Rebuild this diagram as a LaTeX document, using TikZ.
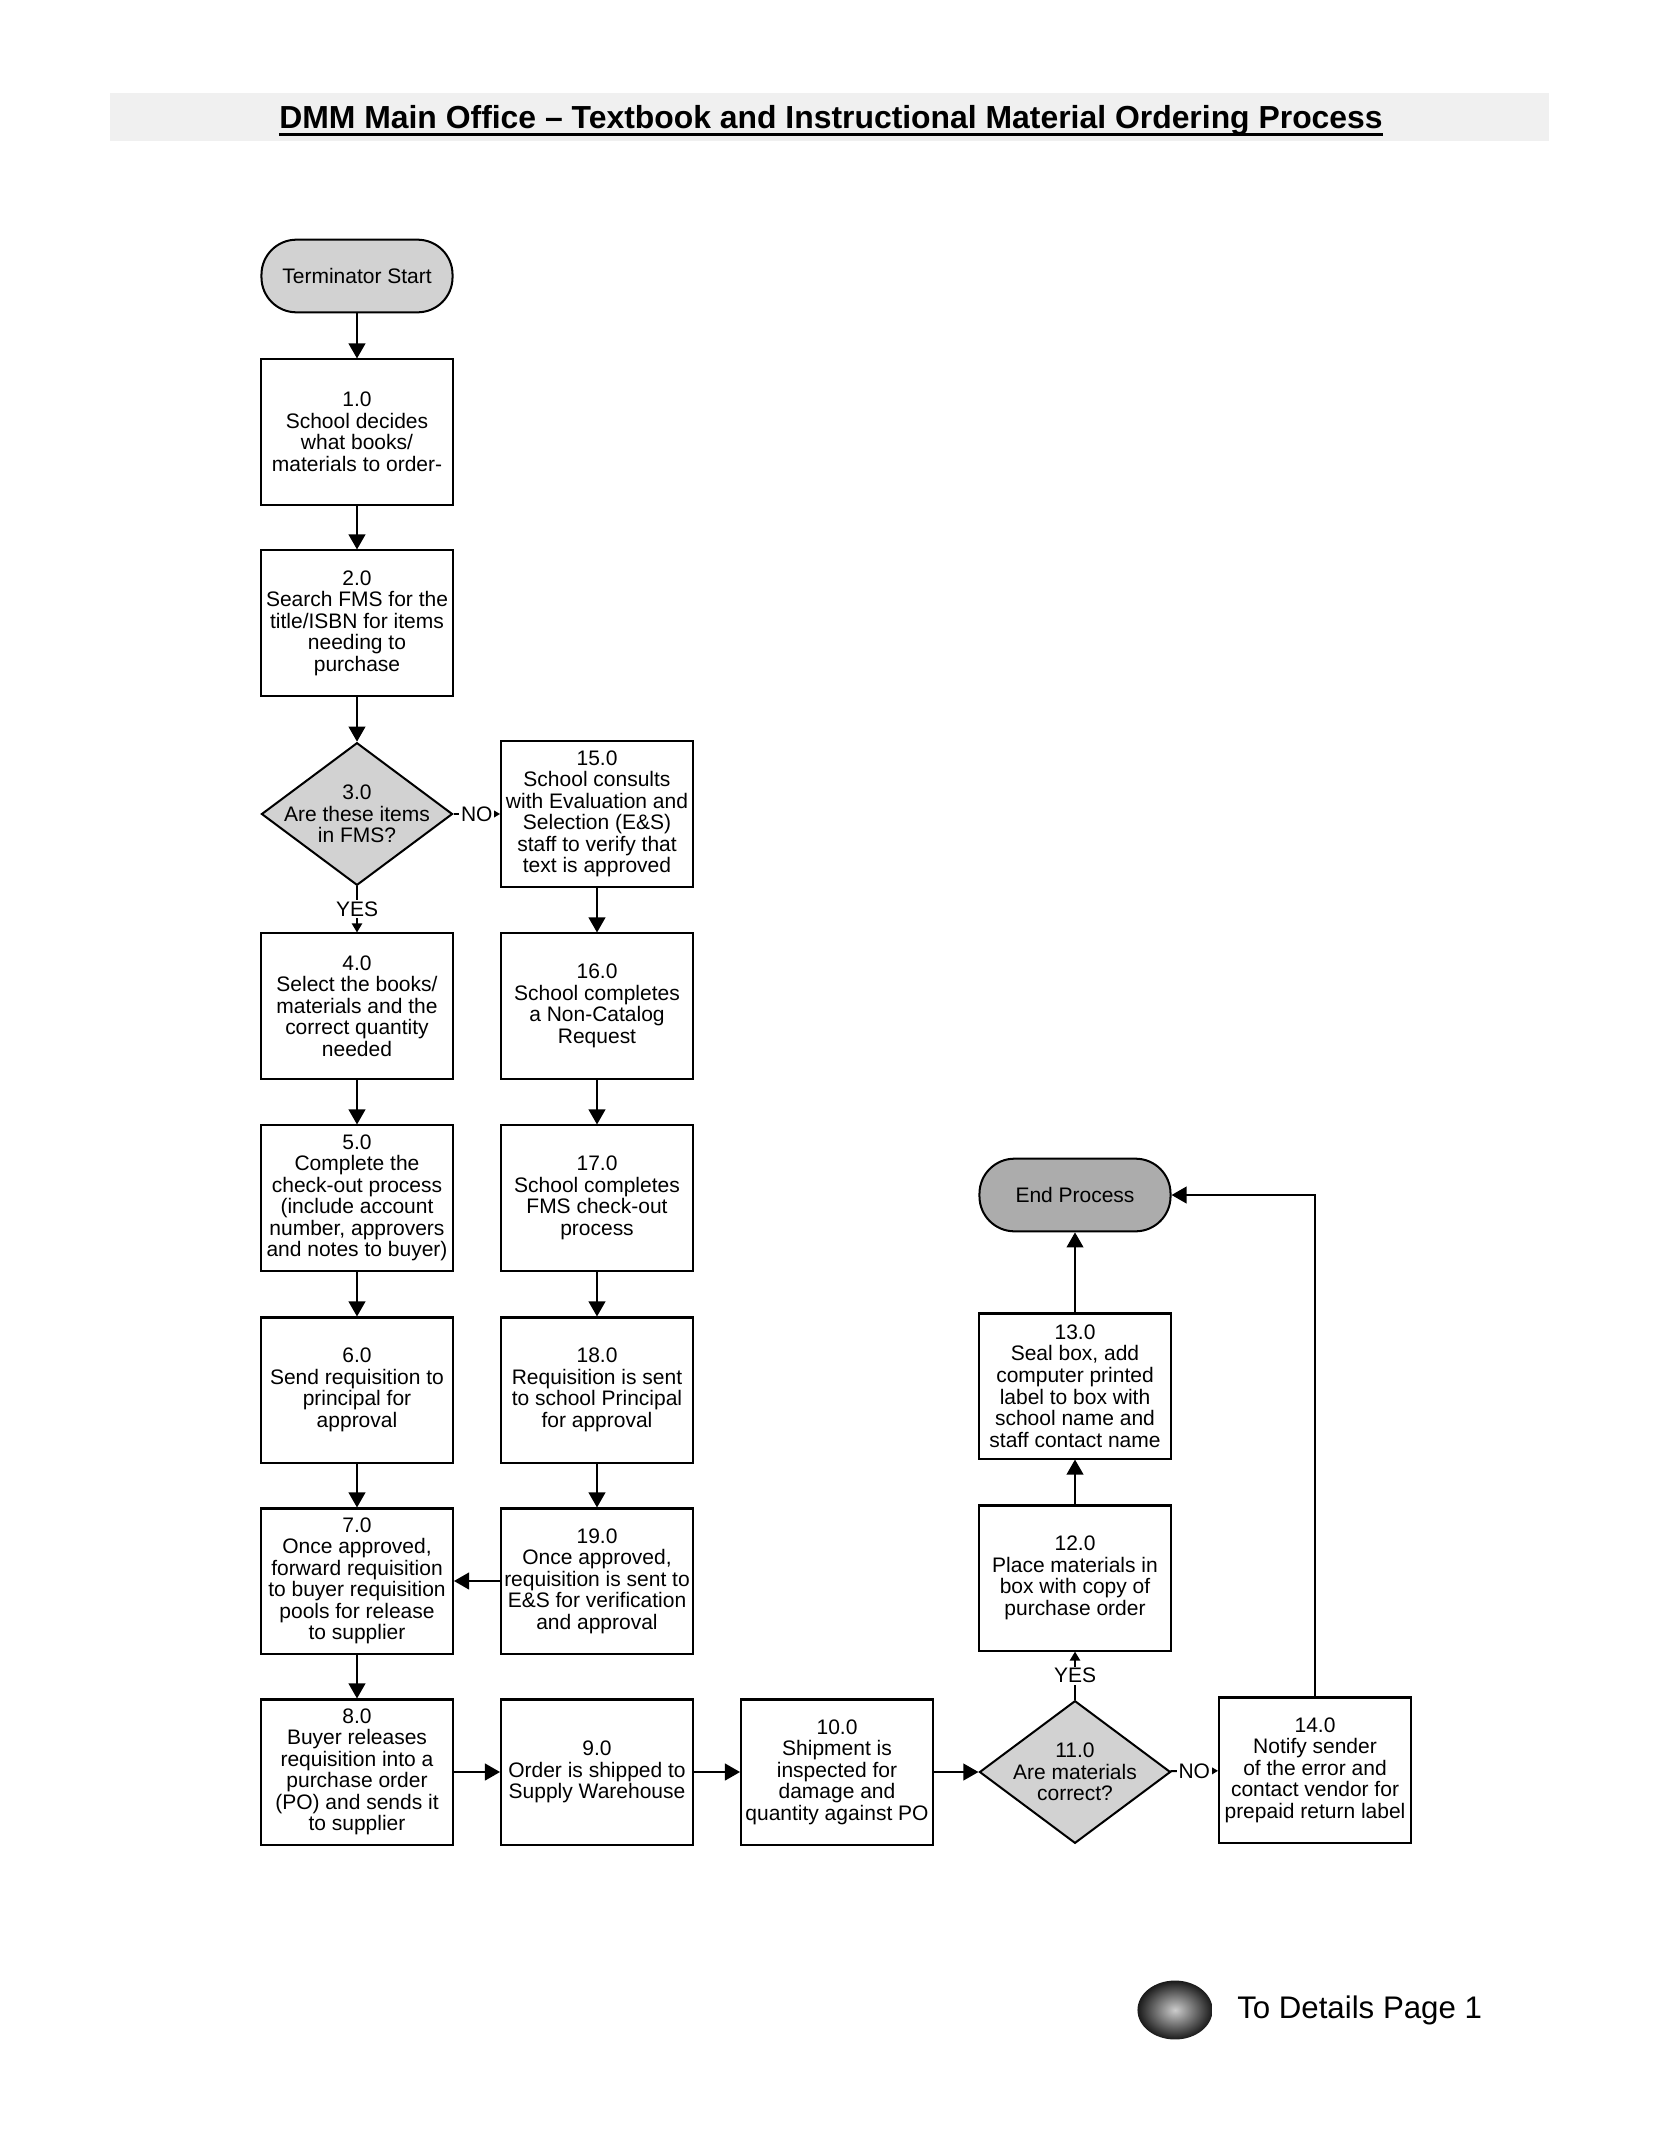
\documentclass[tikz,border=0pt]{standalone}
\usepackage{fontspec}
\setmainfont{Liberation Sans}
\usetikzlibrary{arrows.meta,shapes.geometric,positioning}

\begin{document}
\begin{tikzpicture}[x=0.3716pt, y=-0.3716pt, >={Triangle[length=5.6pt,width=6.2pt]}]
		\tikzstyle{every node} = [font=\fontsize{7.8}{8}\selectfont, align=center]
		\tikzstyle{process} = [draw, line width=0.75pt, minimum width=71.3pt, minimum height=53.9pt, inner sep=0pt]
		\tikzstyle{decision} = [diamond, draw, line width=0.75pt, fill=gray!35, minimum width=71pt, minimum height=53pt, inner sep=0pt]
		\tikzstyle{terminator} = [draw, line width=0.75pt, rounded corners=13pt, minimum width=71pt, minimum height=27pt]
		\tikzstyle{answer} = [fill=white, inner sep=0.6pt]
		\tikzstyle{small tip} = [-{Triangle[length=3.4pt,width=3.8pt]}, line width=0.75pt]
		\useasboundingbox (0,0) rectangle (1653,2153);
		\fill[gray!12] (110,93) rectangle (1549,141);
		\node[font=\fontsize{11.85}{12}\selectfont\bfseries, inner sep=0pt] (title) at (831,120) {DMM Main Office – Textbook and Instructional Material Ordering Process};
		\draw[line width=1.1pt] ([yshift=-2.2pt]title.base west) -- ([yshift=-2.2pt]title.base east);
		% left column
		\node[terminator, fill=gray!35] (start) at (357,276) {Terminator Start};
		\node[process] (s1) at (357,432) {1.0\\School decides\\what books/\\materials to order-};
		\node[process] (s2) at (357,623) {2.0\\Search FMS for the\\title/ISBN for items\\needing to\\purchase};
		\node[decision, label={center:{3.0\\Are these items\\in FMS?}}] (s3) at (357,814) {};
		\node[process] (s4) at (357,1006) {4.0\\Select the books/\\materials and the\\correct quantity\\needed};
		\node[process] (s5) at (357,1198) {5.0\\Complete the\\check-out process\\(include account\\number, approvers\\and notes to buyer)};
		\node[process] (s6) at (357,1390) {6.0\\Send requisition to\\principal for\\approval};
		\node[process] (s7) at (357,1581) {7.0\\Once approved,\\forward requisition\\to buyer requisition\\pools for release\\to supplier};
		\node[process] (s8) at (357,1772) {8.0\\Buyer releases\\requisition into a\\purchase order\\(PO) and sends it\\to supplier};
		% non-catalog column
		\node[process] (s15) at (597,814) {15.0\\School consults\\with Evaluation and\\Selection (E\&S)\\staff to verify that\\text is approved};
		\node[process] (s16) at (597,1006) {16.0\\School completes\\a Non-Catalog\\Request};
		\node[process] (s17) at (597,1198) {17.0\\School completes\\FMS check-out\\process};
		\node[process] (s18) at (597,1390) {18.0\\Requisition is sent\\to school Principal\\for approval};
		\node[process] (s19) at (597,1581) {19.0\\Once approved,\\requisition is sent to\\E\&S for verification\\and approval};
		% bottom row and receiving
		\node[process] (s9) at (597,1772) {9.0\\Order is shipped to\\Supply Warehouse};
		\node[process] (s10) at (837,1772) {10.0\\Shipment is\\inspected for\\damage and\\quantity against PO};
		\node[decision, label={center:{11.0\\Are materials\\correct?}}] (s11) at (1075,1772) {};
		\node[process] (s14) at (1315,1770) {14.0\\Notify sender\\of the error and\\contact vendor for\\prepaid return label};
		\node[process] (s12) at (1075,1578) {12.0\\Place materials in\\box with copy of\\purchase order};
		\node[process] (s13) at (1075,1386) {13.0\\Seal box, add\\computer printed\\label to box with\\school name and\\staff contact name};
		\node[terminator, fill=gray!65] (finish) at (1075,1195) {End Process};
		\foreach \from/\to in {start/s1, s1/s2, s2/s3, s4/s5, s5/s6, s6/s7, s7/s8, s15/s16, s16/s17, s17/s18, s18/s19, s19/s7, s8/s9, s9/s10, s10/s11, s12/s13, s13/finish}
		\draw [->, line width=0.75pt] (\from) -- (\to);
		\draw [small tip] (s3) -- node[answer] {YES} (s4);
		\draw [small tip] (s3) -- node[answer] {NO} (s15);
		\draw [small tip] (s11) -- node[answer] {YES} (s12);
		\draw [small tip] (s11) -- node[answer] {NO} (s14);
		\draw [->, line width=0.75pt] (s14) |- (finish);
		% page connector
		\node[ellipse, minimum width=27.9pt, minimum height=21.9pt, inner color=gray!40, outer color=black!90] (conn) at (1175,2010) {};
		\node[right=8.8pt of conn, inner sep=0pt, font=\fontsize{11.6}{12}\selectfont] (details) {To Details Page 1};
	\end{tikzpicture}
\end{document}
